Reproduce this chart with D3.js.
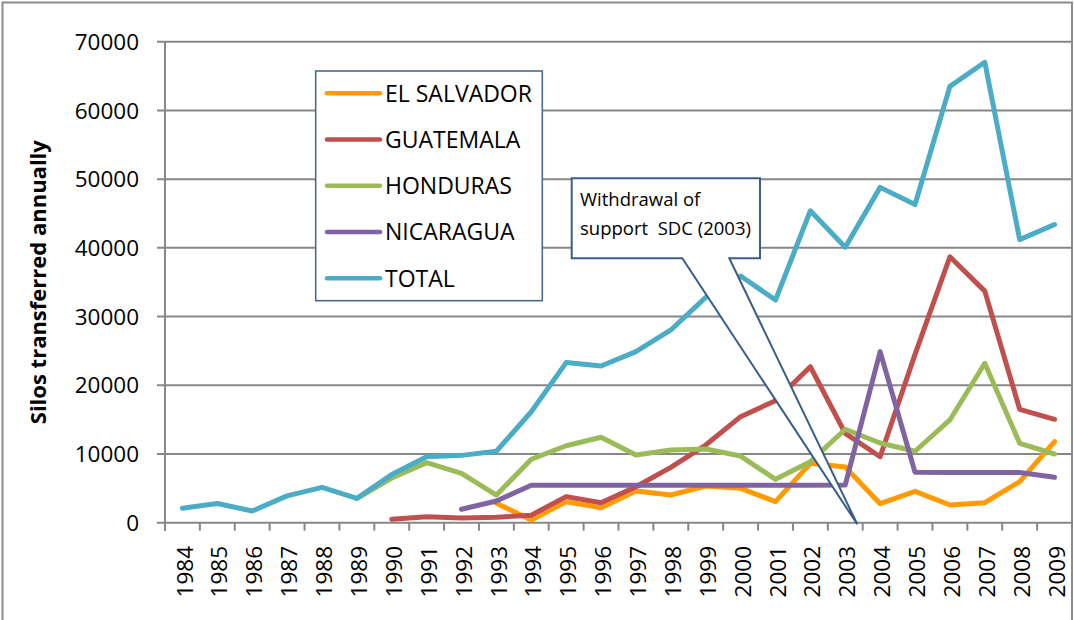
<!DOCTYPE html>
<html>
<head>
<meta charset="utf-8">
<script src="https://cdn.jsdelivr.net/npm/d3@7"></script>
<style>
  html, body { margin: 0; padding: 0; background: #fff; }
  svg { display: block; font-family: "Open Sans", sans-serif; }
</style>
</head>
<body>
<div id="chart"></div>
<script>
// Silos transferred annually, 1984–2009, by country + total

const years = d3.range(1984, 2010).map(String);

const elSalvador = [null, null, null, null, null, null, null, null, null, 2820, 400, 3060, 2180, 4610, 4030, 5340, 5000, 3060, 8640, 8100, 2770, 4560, 2580, 2910, 5970, 11800];
const guatemala  = [null, null, null, null, null, null, 500, 870, 700, 780, 1100, 3800, 2900, 5240, 8060, 11300, 15430, 17760, 22700, 13000, 9600, 24500, 38700, 33700, 16500, 15050];
const honduras   = [null, null, null, null, null, 3500, 6500, 8740, 7190, 4030, 9230, 11200, 12430, 9850, 10580, 10730, 9700, 6310, 8880, 13600, 11600, 10400, 14950, 23200, 11550, 10000];
const nicaragua  = [null, null, null, null, null, null, null, null, 1950, 3160, 5450, 5450, 5450, 5450, 5450, 5450, 5450, 5450, 5450, 5500, 24900, 7350, 7300, 7300, 7300, 6600];
const total      = [2100, 2800, 1700, 3900, 5150, 3550, 7000, 9600, 9800, 10400, 16150, 23300, 22800, 24900, 28050, 32800, 35900, 32400, 45400, 40100, 48800, 46300, 63500, 67000, 41200, 43400];

const yTickValues = [0, 10000, 20000, 30000, 40000, 50000, 60000, 70000];

const series = [
  { name: 'EL SALVADOR', color: '#FF9A00', values: elSalvador },
  { name: 'GUATEMALA',   color: '#C0504D', values: guatemala },
  { name: 'HONDURAS',    color: '#9BBB59', values: honduras },
  { name: 'NICARAGUA',   color: '#8064A2', values: nicaragua },
  { name: 'TOTAL',       color: '#4BACC6', values: total },
];

const calloutLines = ['Withdrawal of', 'support\u00a0\u00a0SDC (2003)'];

// ─── Layout ──────────────────────────────────────────────────────────────
const W = 1074, H = 620;
const plot = { left: 165, right: 1072, top: 41.7, bottom: 522.7 };
const gridColor = '#878787';

const svg = d3.select('#chart').append('svg')
  .attr('width', W)
  .attr('height', H);

// outer chart border (cropped at bottom)
svg.append('rect')
  .attr('x', 2.5).attr('y', 2.5)
  .attr('width', plot.right - 2.5).attr('height', H + 20)
  .attr('fill', '#fff')
  .attr('stroke', '#8c8c8c')
  .attr('stroke-width', 2);

// ─── Scales ──────────────────────────────────────────────────────────────
const x = d3.scaleBand()
  .domain(years)
  .range([plot.left, plot.right])
  .padding(0);
const cx = d => x(d) + x.bandwidth() / 2;

const y = d3.scaleLinear()
  .domain([0, 70000])
  .range([plot.bottom, plot.top]);

// ─── Grid + Y axis ───────────────────────────────────────────────────────
const gGrid = svg.append('g');
gGrid.selectAll('line')
  .data(yTickValues)
  .join('line')
  .attr('x1', plot.left - 8)
  .attr('x2', plot.right)
  .attr('y1', d => y(d))
  .attr('y2', d => y(d))
  .attr('stroke', gridColor)
  .attr('stroke-width', 2);

// y axis line
svg.append('line')
  .attr('x1', plot.left).attr('x2', plot.left)
  .attr('y1', y(70000)).attr('y2', plot.bottom + 8)
  .attr('stroke', gridColor)
  .attr('stroke-width', 2);

svg.append('g')
  .selectAll('text')
  .data(yTickValues)
  .join('text')
  .attr('x', 139)
  .attr('y', d => y(d))
  .attr('dy', '0.36em')
  .attr('text-anchor', 'end')
  .attr('font-size', 22.5)
  .attr('fill', '#000')
  .text(d => d3.format('d')(d));

// y axis title
svg.append('text')
  .attr('transform', `translate(46,${(plot.top + plot.bottom) / 2}) rotate(-90)`)
  .attr('text-anchor', 'middle')
  .attr('font-size', 22)
  .attr('font-weight', 'bold')
  .attr('fill', '#000')
  .text('Silos transferred annually');

// ─── X axis ──────────────────────────────────────────────────────────────
const tickPos = years.map(d => x(d)).concat([x.range()[1]]);
svg.append('g')
  .selectAll('line')
  .data(tickPos)
  .join('line')
  .attr('x1', d => d).attr('x2', d => d)
  .attr('y1', plot.bottom).attr('y2', plot.bottom + 8)
  .attr('stroke', gridColor)
  .attr('stroke-width', 2);

svg.append('g')
  .selectAll('text')
  .data(years)
  .join('text')
  .attr('transform', d => `translate(${cx(d) + 2},546) rotate(-90)`)
  .attr('text-anchor', 'end')
  .attr('dy', '0.36em')
  .attr('font-size', 22.5)
  .attr('fill', '#000')
  .text(d => d);

// ─── Lines ───────────────────────────────────────────────────────────────
const line = d3.line()
  .defined(d => d.v != null)
  .x(d => cx(d.year))
  .y(d => y(d.v));

svg.append('g')
  .selectAll('path')
  .data(series)
  .join('path')
  .attr('d', s => line(s.values.map((v, i) => ({ year: years[i], v }))))
  .attr('fill', 'none')
  .attr('stroke', s => s.color)
  .attr('stroke-width', 5)
  .attr('stroke-linejoin', 'round')
  .attr('stroke-linecap', 'round');

// ─── Legend ──────────────────────────────────────────────────────────────
const legend = svg.append('g');
legend.append('rect')
  .attr('x', 315.7).attr('y', 71)
  .attr('width', 226.6).attr('height', 229.7)
  .attr('fill', '#fff')
  .attr('stroke', '#4A6A94')
  .attr('stroke-width', 1.6);

const rowY = i => 93.3 + i * 46.25;
const items = legend.selectAll('g')
  .data(series)
  .join('g')
  .attr('transform', (s, i) => `translate(0,${rowY(i)})`);

items.append('line')
  .attr('x1', 327).attr('x2', 380)
  .attr('stroke', s => s.color)
  .attr('stroke-width', 4.5)
  .attr('stroke-linecap', 'round');

items.append('text')
  .attr('x', 385)
  .attr('dy', '0.36em')
  .attr('font-size', 23)
  .attr('fill', '#000')
  .text(s => s.name);

// ─── Callout ─────────────────────────────────────────────────────────────
const box = { x0: 571.7, y0: 178.3, x1: 760, y1: 258.3 };
const tip = [857.3, 524.3];
const callout = svg.append('g');
callout.append('path')
  .attr('d', d3.line()([
    [box.x0, box.y0], [box.x1, box.y0], [box.x1, box.y1],
    [729.3, box.y1], tip, [682.3, box.y1], [box.x0, box.y1]
  ]) + 'Z')
  .attr('fill', '#fff')
  .attr('stroke', '#385D8A')
  .attr('stroke-width', 2)
  .attr('stroke-linejoin', 'miter');

callout.selectAll('text')
  .data(calloutLines)
  .join('text')
  .attr('x', 580)
  .attr('y', (d, i) => 206 + i * 29)
  .attr('font-size', 18.5)
  .attr('fill', '#000')
  .text(d => d);
</script>
</body>
</html>
